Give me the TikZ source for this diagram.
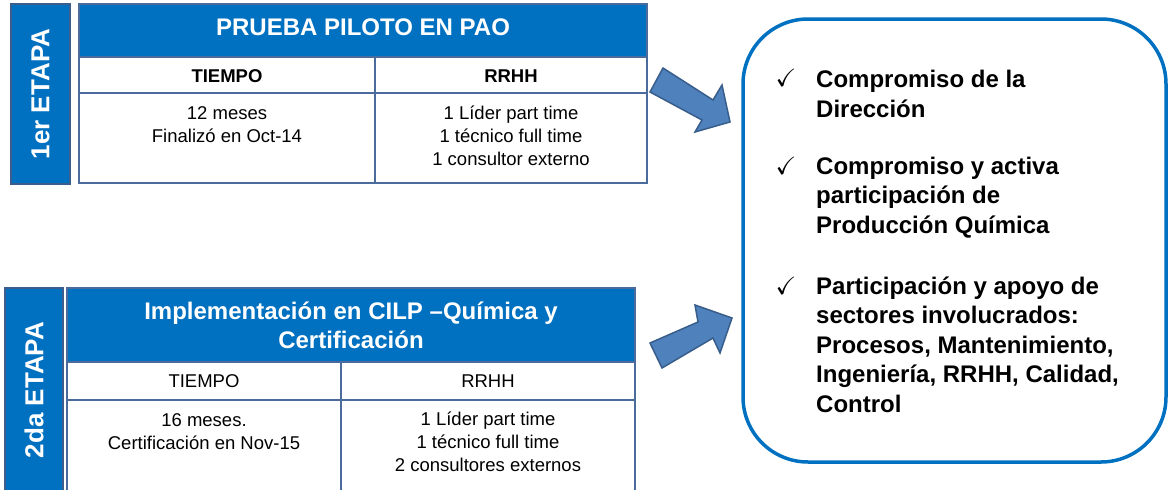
\documentclass[tikz,border=0pt]{standalone}
\usepackage{amssymb}
\usepackage{fontspec}
\setmainfont{Liberation Sans}
\definecolor{hdrblue}{HTML}{0070C0}
\definecolor{gridblue}{HTML}{4A6B9B}
\definecolor{stageedge}{HTML}{3B5E8C}
\definecolor{arrowblue}{HTML}{4F81BD}
\definecolor{arrowedge}{HTML}{385D8A}
\tikzset{
  stagebox/.style={fill=hdrblue,draw=stageedge,line width=2pt},
  stagelabel/.style={rotate=90,text=white,inner sep=0pt,font=\bfseries\fontsize{26}{30}\selectfont},
  gridline/.style={draw=gridblue,line width=1.3pt},
  headtext/.style={text=white,inner sep=0pt,align=center,font=\bfseries\fontsize{24}{28.5}\selectfont},
  colhead/.style={inner sep=0pt,font=\fontsize{18.5}{23}\selectfont},
  celltext/.style={inner sep=0pt,align=center,font=\fontsize{18.5}{23}\selectfont},
  blockarrow/.style={fill=arrowblue,draw=arrowedge,line width=1.5pt,line join=miter},
  goalbox/.style={draw=hdrblue,line width=3.5pt,rounded corners=65pt},
  checkmark/.style={inner sep=0pt,font=\fontsize{25}{25}\selectfont},
  goaltext/.style={anchor=base west,inner sep=0pt,align=left,font=\bfseries\fontsize{24}{29.5}\selectfont}
}

\begin{document}
\begin{tikzpicture}[x=1pt,y=-1pt]
\useasboundingbox (0,0) rectangle (1168,490);
\clip (0,0) rectangle (1168,490);

\draw[stagebox] (11,4) rectangle (70,184);
\node[stagelabel] (etapa1) at (40.5,94) {1er ETAPA};
\fill[hdrblue] (79,4) rectangle (647,57);
\draw[gridline] (79,4) rectangle (647,183);
\draw[gridline] (79,57) -- (647,57);
\draw[gridline] (79,93) -- (647,93);
\draw[gridline] (375,57) -- (375,183);
\node[headtext,anchor=base] (piloto) at (363,35) {PRUEBA PILOTO EN PAO};
\node[colhead,anchor=base,font=\bfseries\fontsize{18.5}{23}\selectfont] (tiempo1) at (227,82) {TIEMPO};
\node[colhead,anchor=base,font=\bfseries\fontsize{18.5}{23}\selectfont] (rrhh1) at (511,82) {RRHH};
\node[celltext,anchor=base] (plazo1) at (227,142) {12 meses\\Finalizó en Oct-14};
\node[celltext,anchor=base] (equipo1) at (511,165) {1 Líder part time\\1 técnico full time\\1 consultor externo};

\draw[stagebox] (5,288) rectangle (63,500);
\node[stagelabel] (etapa2) at (34,390) {2da ETAPA};
\fill[hdrblue] (67,288) rectangle (635,362);
\draw[gridline] (67,500) -- (67,288) -- (635,288) -- (635,500);
\draw[gridline] (67,362) -- (635,362);
\draw[gridline] (67,400) -- (635,400);
\draw[gridline] (341,362) -- (341,500);
\node[headtext,anchor=base] (implementa) at (351,348) {Implementación en CILP –Química y\\Certificación};
\node[colhead,anchor=base] (tiempo2) at (204,387) {TIEMPO};
\node[colhead,anchor=base] (rrhh2) at (488,387) {RRHH};
\node[celltext,anchor=base] (plazo2) at (204,449) {16 meses.\\Certificación en Nov-15};
\node[celltext,anchor=base] (equipo2) at (488,471) {1 Líder part time\\1 técnico full time\\2 consultores externos};

\draw[blockarrow] (663,68) -- (713,100) -- (722,85) -- (730,122) -- (695,132) -- (702,120) -- (650,92) -- cycle;
\draw[blockarrow] (662,368) -- (650,343) -- (698,322) -- (695,305) -- (732,318) -- (720,353) -- (713,338) -- cycle;

\draw[goalbox] (743,19) rectangle (1166,462);
\foreach \y in {78,166,286}{
  \node[checkmark] (chk\y) at (786,\y) {$\checkmark$};
}
\node[goaltext] (direccion) at (816,117) {Compromiso de la\\Dirección};
\node[goaltext] (produccion) at (816,233) {Compromiso y activa\\participación de\\Producción Química};
\node[goaltext] (sectores) at (816,412) {Participación y apoyo de\\sectores involucrados:\\Procesos, Mantenimiento,\\Ingeniería, RRHH, Calidad,\\Control};
\end{tikzpicture}
\end{document}
